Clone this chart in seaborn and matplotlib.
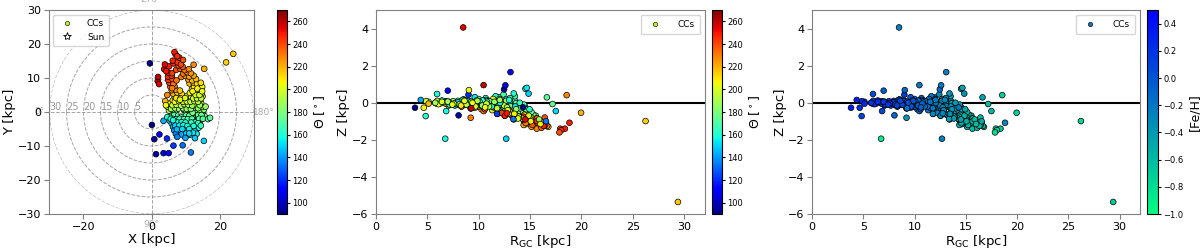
import numpy as np
import pandas as pd
import seaborn as sns
import matplotlib.pyplot as plt
from matplotlib import cm, colors
from matplotlib.lines import Line2D

# columns: X [kpc], Y [kpc], Z [kpc], [Fe/H]
disk_south = [
    (6.0, -0.4, 0.02, 0.15), (7.2, -0.6, -0.05, 0.12), (8.4, -0.3, 0.05, 0.05), (9.6, -0.7, 0.10, -0.05),
    (10.5, -0.4, -0.08, -0.12), (11.4, -0.8, 0.15, -0.20), (12.3, -0.5, -0.10, -0.28), (13.2, -0.7, 0.20, -0.35),
    (14.1, -0.4, -0.30, -0.45), (15.0, -0.6, -0.55, -0.55),
    (5.6, -1.4, 0.00, 0.20), (6.7, -1.7, 0.05, 0.18), (7.9, -1.3, -0.10, 0.10), (8.8, -1.8, 0.08, 0.02),
    (9.9, -1.4, 0.20, -0.08), (10.8, -1.7, -0.15, -0.15), (11.9, -1.3, 0.30, -0.22), (12.8, -1.8, 0.05, -0.32),
    (13.7, -1.5, -0.15, -0.42), (14.6, -1.6, -0.40, -0.50), (15.5, -1.2, -0.70, -0.60),
    (5.3, -2.6, -0.05, 0.18), (6.4, -2.4, -0.45, 0.10), (7.5, -2.7, 0.10, 0.08), (8.5, -2.3, -0.12, 0.05),
    (9.4, -2.8, 0.05, -0.05), (10.4, -2.4, 0.25, -0.18), (11.3, -2.7, -0.20, -0.25), (12.2, -2.3, 0.45, -0.30),
    (13.3, -2.6, 0.10, -0.38), (14.3, -2.4, -0.20, -0.48),
    (5.9, -3.4, 0.08, 0.15), (7.0, -3.6, -0.02, 0.12), (8.1, -3.3, 0.12, 0.05), (9.1, -3.7, -0.20, -0.02),
    (10.1, -3.4, 0.05, -0.12), (11.0, -3.8, 0.35, -0.20), (12.0, -3.3, -0.35, -0.30), (13.0, -3.7, 0.35, -0.40),
    (14.0, -3.4, -0.10, -0.45),
    (6.3, -4.4, -0.15, 0.10), (7.4, -4.7, 0.02, 0.08), (8.6, -4.3, 0.30, 0.00), (9.7, -4.6, -0.10, -0.10),
    (10.7, -4.4, 0.10, -0.18), (11.7, -4.7, -0.05, -0.28), (12.7, -4.3, 0.50, -0.35), (13.8, -4.6, 0.75, -0.45),
    (6.6, -5.4, 0.18, 0.05), (8.0, -5.7, -0.05, -0.02), (9.3, -5.3, 0.15, -0.10), (10.4, -5.6, -0.25, -0.20),
    (11.5, -5.4, 0.20, -0.30), (12.6, -5.7, -0.05, -0.40),
    (7.1, -6.4, -0.25, 0.02), (8.8, -6.6, 0.10, -0.15), (10.1, -6.3, -0.40, -0.22), (11.2, -6.7, 0.05, -0.35),
    (13.2, -6.4, 0.80, -0.45), (7.5, -7.3, 0.00, -0.08), (9.9, -7.6, -0.10, -0.28),
]

disk_north = [
    (5.1, 0.4, 0.05, 0.22), (6.3, 0.6, -0.03, 0.20), (7.5, 0.3, 0.08, 0.15), (8.7, 0.7, -0.05, 0.08),
    (9.8, 0.4, 0.12, -0.02), (10.9, 0.8, -0.02, -0.12), (12.0, 0.5, 0.20, -0.20), (13.1, 0.6, -0.20, -0.32),
    (14.2, 0.4, -0.45, -0.45), (15.3, 0.7, -0.65, -0.55),
    (4.6, 1.6, 0.08, 0.25), (5.8, 1.4, 0.10, 0.20), (7.0, 1.7, -0.10, 0.15), (8.2, 1.3, 0.02, 0.10),
    (9.3, 1.8, -0.12, 0.00), (10.4, 1.4, 0.10, -0.10), (11.5, 1.6, -0.30, -0.20), (12.6, 1.3, 0.10, -0.30),
    (13.7, 1.7, -0.55, -0.40), (14.8, 1.5, -0.80, -0.50),
    (5.5, 2.6, -0.08, 0.22), (6.7, 2.4, 0.05, 0.15), (7.9, 2.7, -0.20, 0.08), (9.0, 2.3, 0.05, 0.02),
    (10.1, 2.8, -0.25, -0.10), (11.2, 2.4, 0.05, -0.18), (12.3, 2.7, -0.40, -0.30), (13.4, 2.3, -0.70, -0.42),
    (14.5, 2.6, -0.95, -0.55),
    (6.2, 3.4, -0.15, 0.18), (7.4, 3.7, 0.05, 0.10), (8.6, 3.3, -0.10, 0.05), (9.7, 3.6, 0.05, -0.08),
    (10.8, 3.4, -0.40, -0.18), (11.9, 3.7, -0.15, -0.28), (13.0, 3.3, -0.90, -0.40), (14.1, 3.6, -0.60, -0.50),
    (6.8, 4.4, -0.05, 0.12), (8.0, 4.6, -0.30, 0.05), (9.2, 4.3, -0.10, -0.05), (10.4, 4.7, 0.20, -0.15),
    (11.6, 4.4, -0.55, -0.28), (12.7, 4.6, -0.30, -0.38), (13.8, 4.3, -1.00, -0.50), (14.9, 4.6, -0.85, -0.60),
    (6.3, 5.4, -0.20, 0.10), (7.5, 5.7, 0.00, 0.02), (8.8, 5.3, -0.35, -0.08), (11.2, 5.6, -0.70, -0.28),
    (12.4, 5.4, -0.50, -0.38), (13.5, 5.7, -1.15, -0.52), (14.6, 5.3, -1.00, -0.60),
    (5.9, 6.4, -0.10, 0.10), (7.1, 6.6, -0.25, 0.00), (8.3, 6.3, 0.05, -0.10), (11.8, 6.7, -0.80, -0.40),
    (13.0, 6.3, -0.65, -0.48), (14.2, 6.6, -1.20, -0.62),
    (5.5, 7.4, -0.30, 0.05), (6.7, 7.6, -0.15, -0.05), (12.4, 7.3, -0.95, -0.50), (13.6, 7.7, -1.30, -0.60),
    (14.8, 7.4, -1.10, -0.65),
    (5.2, 8.6, -0.20, -0.05), (6.4, 8.3, -0.45, -0.10), (11.1, 8.4, -0.75, -0.42), (12.2, 8.7, -1.05, -0.55),
    (13.3, 8.3, -0.90, -0.60), (14.4, 8.6, -1.30, -0.68),
    (4.9, 9.4, -0.35, -0.10), (6.1, 9.7, -0.10, -0.18), (7.3, 9.3, -0.60, -0.22), (10.7, 9.6, -1.20, -0.50),
    (11.9, 9.3, -0.80, -0.55), (13.0, 9.7, -1.15, -0.62),
    (4.8, 10.4, -0.25, -0.15), (5.9, 10.7, -0.55, -0.25), (8.7, 10.3, -0.85, -0.40), (9.9, 10.6, -1.00, -0.48),
    (11.0, 10.4, -1.30, -0.56), (12.3, 10.7, -0.95, -0.63),
    (4.8, 11.6, -0.70, -0.30), (6.0, 11.4, -0.35, -0.32), (9.2, 11.3, -1.10, -0.50), (10.4, 11.7, -1.40, -0.60),
    (11.5, 11.4, -1.05, -0.62),
    (3.7, 12.6, -0.65, -0.35), (7.2, 12.4, -0.90, -0.45), (8.4, 12.7, -1.20, -0.55), (9.7, 12.3, -0.85, -0.58),
    (10.9, 12.6, -1.25, -0.66),
    (5.1, 13.4, -0.75, -0.45), (7.9, 13.6, -1.10, -0.58), (9.1, 13.3, -1.35, -0.62),
    (6.4, 14.3, -1.00, -0.60), (7.6, 14.6, -1.20, -0.64), (8.6, 14.0, -0.80, -0.60), (6.2, 15.1, -1.25, -0.60),
    (7.0, 17.0, -1.40, -0.65), (4.0, 3.2, -0.05, 0.25), (4.6, 5.0, -0.05, 0.15),
]

disk_fill = [
    (6.6, -0.9, 0.04, 0.16), (7.8, -1.0, -0.02, 0.12), (9.0, -0.9, 0.06, 0.04), (10.1, -1.0, -0.10, -0.08),
    (11.0, -1.1, 0.08, -0.16), (12.0, -0.2, -0.05, -0.24), (13.6, -0.9, -0.02, -0.40), (14.6, -0.9, -0.35, -0.50),
    (6.1, -2.0, 0.12, 0.17), (7.3, -2.1, -0.05, 0.10), (8.2, -2.0, 0.15, 0.06), (9.5, -2.1, -0.06, -0.04),
    (10.6, -2.1, 0.05, -0.14), (11.8, -2.0, -0.10, -0.24), (12.7, -3.0, 0.25, -0.33), (13.9, -2.0, -0.30, -0.44),
    (15.0, -2.0, -0.50, -0.55), (6.5, -3.0, -0.10, 0.14), (7.6, -3.1, 0.05, 0.10), (8.8, -3.0, -0.05, 0.04),
    (9.9, -3.1, 0.12, -0.07), (11.6, -3.1, 0.10, -0.24), (13.6, -3.3, 0.00, -0.42), (6.9, -4.0, 0.02, 0.12),
    (8.1, -4.0, -0.12, 0.06), (9.3, -3.9, 0.05, -0.03), (10.5, -4.1, -0.20, -0.15), (12.3, -4.1, 0.15, -0.30),
    (14.4, -4.0, -0.35, -0.50), (7.4, -5.1, 0.10, 0.06), (9.0, -5.0, -0.15, -0.04), (11.0, -5.0, 0.00, -0.22),
    (12.1, -6.1, -0.20, -0.32),
    (5.7, 0.9, 0.00, 0.20), (6.9, 1.1, 0.06, 0.16), (8.1, 0.8, -0.08, 0.10), (9.2, 1.1, 0.05, 0.03),
    (10.3, 0.9, -0.15, -0.07), (11.5, 0.9, 0.05, -0.17), (12.6, 2.0, -0.25, -0.28), (13.6, 1.1, -0.35, -0.38),
    (15.8, 1.6, -0.90, -0.62), (6.1, 2.0, 0.05, 0.20), (7.3, 2.1, -0.05, 0.14), (8.6, 1.9, -0.10, 0.08),
    (9.6, 2.3, 0.10, -0.02), (10.8, 2.1, -0.20, -0.14), (11.9, 1.9, 0.15, -0.22), (14.1, 2.0, -0.85, -0.48),
    (6.8, 3.0, -0.10, 0.15), (8.0, 3.2, 0.10, 0.08), (9.2, 3.0, -0.20, 0.00), (10.3, 3.1, -0.05, -0.10),
    (11.4, 3.0, -0.30, -0.20), (12.5, 3.2, -0.60, -0.32), (13.6, 3.0, -0.80, -0.44), (7.2, 4.1, -0.15, 0.10),
    (8.5, 4.0, 0.00, 0.04), (9.8, 4.1, -0.25, -0.08), (12.2, 4.0, -0.40, -0.30), (13.3, 4.0, -0.75, -0.44),
    (14.5, 4.0, -0.90, -0.56), (12.9, 5.0, -0.85, -0.42), (14.0, 5.0, -0.70, -0.54), (12.0, 6.1, -0.60, -0.36),
    (13.4, 6.9, -1.00, -0.52), (14.8, 6.1, -1.15, -0.62),
]

outliers = [
    (0.1, -3.8, -0.27, 0.35), (3.5, -2.6, 0.15, 0.30), (4.2, 2.0, -0.27, 0.25), (4.6, -1.5, -0.72, 0.10),
    (5.6, -2.0, 0.47, 0.05), (6.3, -2.4, -1.94, -0.90), (2.3, -6.6, 0.65, -0.05), (0.8, -8.0, -0.68, -0.10),
    (4.5, -7.8, 0.43, 0.15), (8.3, 3.6, 0.68, -0.10), (6.0, 7.0, -0.81, -0.40), (1.8, 9.1, -0.30, -0.20),
    (1.9, 10.3, 0.95, -0.20), (4.3, 12.0, -0.57, -0.30), (3.9, 14.0, -0.90, -0.45), (1.3, -12.4, 0.72, -0.15),
    (3.5, -12.1, 0.94, -0.20), (5.0, -12.1, 1.65, -0.25), (6.4, -9.9, -0.60, -0.30), (9.1, -9.8, -0.88, -0.45),
    (11.5, -11.9, -1.00, -0.50), (11.0, -6.3, -1.94, -0.25), (12.7, -7.7, 0.49, -0.35), (15.3, -8.5, -0.45, -0.55),
    (16.5, -2.1, 0.29, -0.45), (17.1, -1.7, -0.07, -0.60), (12.3, 13.9, 0.41, -0.70), (15.4, 12.7, -0.54, -0.72),
    (6.7, 17.6, -1.08, -0.30), (8.1, 16.0, -1.40, -0.70), (7.5, 16.4, -1.48, -0.75), (9.2, 15.3, -1.60, -0.80),
    (21.8, 14.6, -0.99, -0.75), (23.9, 17.1, -5.35, -0.70), (-0.5, 14.3, -0.25, -0.20), (2.2, 8.2, 4.06, -0.25),
]

sun_xy = (8.3, 0.0)

df = pd.DataFrame(disk_south + disk_north + disk_fill + outliers, columns=["X", "Y", "Z", "FeH"])
df["R"] = np.hypot(df["X"], df["Y"])
df["theta"] = 180 + np.degrees(np.arctan(df["Y"] / df["X"]))

jet = plt.get_cmap("jet")
winter_r = plt.get_cmap("winter_r")
theta_norm = colors.Normalize(90, 270)
feh_norm = colors.Normalize(-1.0, 0.5)
pt = dict(s=17, edgecolor="k", linewidth=0.5, legend=False)
SPINE = "#808080"


def style_axes(ax):
    for sp in ax.spines.values():
        sp.set_color(SPINE)
    ax.tick_params(labelsize=8, color=SPINE, length=3.5, pad=2)


def add_cbar(rect, norm, cmap, ticks, label):
    cax = fig.add_axes(rect)
    cb = fig.colorbar(cm.ScalarMappable(norm, cmap), cax=cax)
    cb.set_ticks(ticks)
    cb.ax.tick_params(labelsize=6, length=2.5, pad=1.5)
    cb.set_label(label, fontsize=9, labelpad=3)
    return cb


fig = plt.figure(figsize=(12, 2.5), dpi=100)

## 1. X-Y plane with polar grid ##
rect = [0.0408, 0.144, 0.171, 0.816]
axp = fig.add_axes(rect, projection="polar", zorder=0)
axp.set_theta_zero_location("W")
axp.set_theta_direction(1)
axp.set_ylim(0, 30)
axp.set_rgrids([5, 10, 15, 20, 25, 30], angle=0, color="#999999", fontsize=7)
axp.set_thetagrids([0, 90, 180, 270], color="#aaaaaa", fontsize=6.5)
axp.tick_params(axis="x", pad=-3)
axp.grid(ls="--", color="grey", alpha=0.7, lw=0.7)
axp.spines["polar"].set_visible(False)

ax1 = fig.add_axes(rect, zorder=1)
ax1.patch.set_alpha(0)
sns.scatterplot(data=df, x="X", y="Y", hue="theta", hue_norm=theta_norm, palette=jet, ax=ax1, **pt)
ax1.scatter(*sun_xy, marker="*", s=25, facecolor="white", edgecolor="k", linewidth=0.4, zorder=5)
ax1.set_xlim(-30, 30)
ax1.set_ylim(-30, 30)
ax1.set_xticks([-20, 0, 20])
ax1.set_yticks(range(-30, 31, 10))
ax1.set_xlabel("X [kpc]", fontsize=9.5, labelpad=1)
ax1.set_ylabel("Y [kpc]", fontsize=9.5, labelpad=1)
style_axes(ax1)
h = [Line2D([], [], ls="", marker="o", ms=3.2, mfc="#b8f030", mec="k", mew=0.4),
     Line2D([], [], ls="", marker="*", ms=6, mfc="white", mec="k", mew=0.6)]
ax1.legend(h, ["CCs", "Sun"], loc="upper left", fontsize=6.5, borderpad=0.5, handletextpad=1.2)

add_cbar([0.2308, 0.144, 0.0083, 0.816], theta_norm, jet, range(100, 261, 20), "Θ [$^\\circ$]")

## 2. Z vs R_GC coloured by Theta ##
ax2 = fig.add_axes([0.3133, 0.144, 0.274, 0.816])
ax2.axhline(0, color="k", lw=1.5, zorder=0)
sns.scatterplot(data=df, x="R", y="Z", hue="theta", hue_norm=theta_norm, palette=jet, ax=ax2, **pt)
ax2.set_xlim(0, 32)
ax2.set_ylim(-6, 5)
ax2.set_yticks([-6, -4, -2, 0, 2, 4])
ax2.set_xlabel("R$_{\\mathrm{GC}}$ [kpc]", fontsize=9.5, labelpad=1)
ax2.set_ylabel("Z [kpc]", fontsize=9.5, labelpad=1)
style_axes(ax2)
ax2.legend([h[0]], ["CCs"], loc="upper right", fontsize=6.5, borderpad=0.6, handletextpad=1.5)

add_cbar([0.5933, 0.144, 0.0083, 0.816], theta_norm, jet, range(100, 261, 20), "Θ [$^\\circ$]")

## 3. Z vs R_GC coloured by [Fe/H] ##
ax3 = fig.add_axes([0.6767, 0.144, 0.2733, 0.816])
ax3.axhline(0, color="k", lw=1.5, zorder=0)
sns.scatterplot(data=df, x="R", y="Z", hue="FeH", hue_norm=feh_norm, palette=winter_r, ax=ax3, **pt)
ax3.set_xlim(0, 32)
ax3.set_ylim(-6, 5)
ax3.set_yticks([-6, -4, -2, 0, 2, 4])
ax3.set_xlabel("R$_{\\mathrm{GC}}$ [kpc]", fontsize=9.5, labelpad=1)
ax3.set_ylabel("Z [kpc]", fontsize=9.5, labelpad=1)
style_axes(ax3)
h3 = Line2D([], [], ls="", marker="o", ms=3.2, mfc="#1a6fb0", mec="k", mew=0.4)
ax3.legend([h3], ["CCs"], loc="upper right", fontsize=6.5, borderpad=0.6, handletextpad=1.5)

add_cbar([0.9558, 0.144, 0.0092, 0.816], feh_norm, winter_r,
         [-1.0, -0.8, -0.6, -0.4, -0.2, 0.0, 0.2, 0.4], "[Fe/H]")

fig.savefig("out.png", dpi=100)
